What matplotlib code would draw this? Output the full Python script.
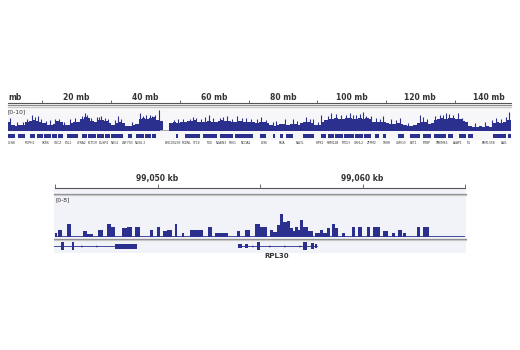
import numpy as np
import matplotlib.pyplot as plt
from matplotlib.lines import Line2D
from matplotlib.patches import Rectangle

W, H = 520, 350
BLUE = "#2b2f8e"
TXT = "#333333"

# ---- chr8 overview (1 mb bins, signal range 0-10) ----
chr_len = 146.4
overview = [
    4.2, 3.2, 2.6, 2.8, 3.0, 4.4, 5.0, 5.2, 4.8, 4.6,
    3.8, 3.0, 2.8, 3.6, 4.8, 4.4, 3.2, 2.8, 4.0, 4.2,
    4.6, 5.8, 6.8, 6.2, 4.8, 4.6, 5.2, 5.4, 5.0, 4.0,
    2.8, 3.8, 4.4, 4.0, 2.6, 2.4, 2.8, 3.6, 5.8, 6.4,
    6.0, 6.2, 6.6, 5.2, 4.8, 0.0, 0.0, 4.0, 4.2, 3.8,
    4.4, 4.6, 5.0, 4.8, 5.2, 4.4, 4.2, 4.6, 4.8, 4.2,
    4.4, 5.0, 5.4, 4.8, 5.0, 4.6, 4.2, 4.8, 4.4, 4.2,
    4.6, 4.4, 4.0, 4.6, 4.2, 3.8, 2.8, 2.6, 3.0, 3.4,
    3.6, 3.2, 3.4, 3.6, 3.2, 3.8, 4.2, 4.6, 3.8, 3.2,
    3.0, 4.4, 5.4, 5.8, 6.0, 6.2, 5.8, 6.0, 6.4, 6.2,
    5.6, 6.0, 6.2, 5.8, 6.4, 5.6, 4.4, 4.2, 4.6, 4.2,
    3.8, 3.6, 3.4, 3.8, 3.6, 2.8, 2.6, 2.4, 2.8, 4.0,
    4.6, 4.2, 3.4, 3.8, 5.4, 6.0, 6.2, 5.8, 6.4, 6.2,
    5.6, 5.8, 4.8, 4.6, 2.4, 2.2, 2.0, 2.4, 2.2, 2.6,
    2.2, 3.8, 4.2, 4.0, 4.6, 5.2, 5.4,
]
gap_start, gap_end = 44.2, 46.8

spike_mb = [0.6, 2.5, 4.3, 5.6, 6.9, 7.9, 8.8, 9.6, 11.2, 12.2,
            13.7, 14.8, 16.4, 18.0, 19.5, 20.9, 21.6, 22.4, 23.1, 24.2,
            25.8, 26.5, 27.2, 28.2, 29.0, 31.0, 32.1, 33.0, 36.2, 38.4,
            39.2, 40.3, 41.2, 41.8, 42.8, 44.0, 48.2, 49.5, 50.8, 52.9,
            53.8, 54.8, 56.2, 57.3, 58.5, 59.8, 61.6, 62.5, 63.6, 65.2,
            66.7, 68.1, 69.4, 70.6, 72.4, 73.7, 75.2, 77.0, 78.1, 80.5,
            82.9, 84.0, 86.8, 87.8, 88.8, 90.2, 91.2, 93.0, 94.1, 95.6,
            97.0, 98.3, 99.4, 100.4, 101.4, 102.5, 103.3, 104.3, 105.6, 107.2,
            108.2, 109.1, 111.5, 112.8, 114.0, 116.5, 119.8, 120.7, 122.0, 124.4,
            125.6, 126.6, 127.5, 128.4, 129.5, 130.9, 132.2, 136.0, 138.8, 141.0,
            142.1, 143.6, 144.8, 145.9]
spike_val = [6.3, 4.4, 4.2, 5.8, 7.5, 6.8, 7.1, 6.0, 4.8, 5.5,
             5.8, 5.9, 4.6, 5.6, 6.4, 5.8, 7.2, 8.7, 7.5, 6.2,
             6.8, 6.6, 7.2, 6.5, 6.0, 5.2, 7.1, 5.6, 4.2, 8.7,
             7.4, 7.9, 7.6, 7.0, 7.5, 10.0, 5.4, 5.6, 5.8, 6.0,
             6.6, 6.4, 5.8, 6.8, 7.5, 6.2, 6.3, 6.8, 7.1, 6.0,
             7.1, 6.4, 6.3, 6.0, 5.6, 6.8, 5.2, 4.4, 4.8, 5.6,
             5.9, 5.0, 6.8, 5.8, 5.6, 4.6, 7.9, 7.4, 8.7, 8.0,
             7.9, 7.6, 8.4, 7.8, 7.5, 8.2, 9.0, 7.1, 7.0, 6.3,
             5.8, 7.1, 5.9, 5.4, 6.3, 4.0, 7.9, 6.8, 5.8, 7.0,
             7.5, 7.8, 8.4, 8.0, 7.9, 8.7, 6.4, 3.8, 4.2, 5.4,
             6.3, 6.0, 6.8, 9.0]

mb_labels = [0, 20, 40, 60, 80, 100, 120, 140]
mb_ticks = [10, 30, 50, 70, 90, 110, 130]

gene_blocks = [
    (0.1, 2.0), (3.0, 4.9), (6.4, 8.0), (8.3, 10.2), (10.5, 12.6), (12.9, 14.2),
    (14.6, 16.1), (17.1, 20.4), (21.4, 23.0), (23.3, 25.6), (25.9, 27.8),
    (28.1, 29.7), (30.1, 33.5), (35.0, 36.0), (37.4, 39.5), (39.8, 41.6),
    (41.9, 43.2), (49.0, 49.5), (51.5, 55.8), (56.7, 60.7), (61.6, 65.5),
    (66.0, 71.3), (73.3, 75.2), (77.1, 77.6), (79.1, 80.0), (81.0, 82.9),
    (85.8, 89.2), (91.2, 92.6), (93.1, 95.0), (95.3, 97.6), (97.9, 100.6),
    (100.9, 103.2), (103.5, 105.7), (106.7, 108.1), (109.1, 110.1),
    (113.5, 115.4), (116.9, 119.8), (120.7, 123.2), (124.1, 127.5),
    (128.0, 129.5), (131.4, 133.3), (133.8, 135.3), (141.1, 145.0), (145.4, 146.4),
]
gene_names = ["CLN8", "MCPH1", "XKR6", "SGCZ", "FGL1", "GFRA2", "KCTD9", "DUSP4",
              "NRG1", "ZNF703", "NKX6-3", "LINC00293", "PXDNL", "ST18", "TOX",
              "NKAIN3", "RRS1", "NCOA2", "LY96", "PKIA", "RALYL", "RIPK2",
              "RBM12B", "MTDH", "GRHL2", "ZFPM2", "TRHR", "CSMD3", "EXT1",
              "MTBP", "TMEM65", "ASAP1", "TG", "FAM135B", "BAI1"]
gene_name_mb = [1.2, 6.4, 11.0, 14.5, 17.7, 21.4, 24.7, 27.9, 31.1, 34.9,
                38.6, 48.0, 51.9, 55.0, 58.4, 62.0, 65.4, 69.2, 74.7, 79.7,
                85.0, 90.7, 94.5, 98.3, 102.0, 105.8, 110.0, 114.5, 118.0,
                122.0, 126.0, 131.0, 134.0, 140.0, 144.5]

# ---- RPL30 locus (kb, signal range 0-8) ----
kb_lo, kb_hi = 99045, 99065
kb_ticks = [99045, 99050, 99055, 99060, 99065]
kb_labels = {99050: "99,050 kb", 99060: "99,060 kb"}

peak_start = [0.00, 0.15, 0.59, 1.37, 1.56, 2.10, 2.54, 2.73, 3.27, 3.51,
              3.90, 4.63, 4.98, 5.27, 5.46, 5.85, 6.20, 6.59, 7.46, 7.80,
              8.88, 9.27, 9.76, 10.00, 10.49, 10.63, 10.83, 10.98, 11.12, 11.32,
              11.46, 11.61, 11.71, 11.85, 11.95, 12.10, 12.34, 12.68, 12.93, 13.07,
              13.27, 13.51, 13.66, 14.00, 14.49, 14.78, 15.22, 15.51, 16.00, 16.44,
              16.73, 16.98, 17.66, 17.95]
peak_end = [0.10, 0.34, 0.78, 1.56, 1.85, 2.34, 2.73, 2.93, 3.51, 3.76,
            4.15, 4.78, 5.12, 5.46, 5.71, 5.95, 6.29, 7.22, 7.66, 8.44,
            9.02, 9.51, 10.00, 10.34, 10.63, 10.83, 10.98, 11.12, 11.32, 11.46,
            11.61, 11.71, 11.85, 11.95, 12.10, 12.34, 12.59, 12.93, 13.07, 13.27,
            13.41, 13.66, 13.80, 14.15, 14.63, 14.98, 15.37, 15.85, 16.24, 16.59,
            16.93, 17.12, 17.80, 18.24]
peak_val = [0.6, 1.3, 2.4, 1.1, 0.5, 1.3, 2.4, 1.9, 1.7, 1.9,
            1.9, 1.3, 1.9, 1.0, 1.3, 2.4, 0.6, 1.3, 1.9, 0.6,
            1.0, 1.3, 2.4, 1.9, 1.3, 0.8, 2.3, 4.4, 2.9, 3.1,
            1.6, 1.0, 1.9, 1.2, 3.3, 1.9, 1.0, 0.6, 1.3, 0.6,
            1.6, 2.4, 1.7, 0.6, 1.9, 1.9, 1.9, 1.9, 1.0, 0.6,
            1.3, 0.6, 1.9, 1.9]

# transcripts: intron span, exons (start, end, half-height), strand arrows
tx_spans = [(-0.05, 2.93), (8.93, 12.78)]
tx_exons = [(0.28, 0.44, 4), (0.81, 0.94, 4), (2.93, 3.99, 2.5),
            (8.93, 9.12, 2), (9.27, 9.41, 2), (9.85, 10.02, 4),
            (12.10, 12.29, 4), (12.49, 12.63, 3), (12.68, 12.78, 2)]
tx_arrows = [1.30, 2.07, 9.66, 10.49, 11.22, 11.95]


fig = plt.figure(figsize=(W / 100, H / 100), dpi=100)


def panel(x0, y0, x1, y1):
    ax = fig.add_axes([x0 / W, 1 - y1 / H, (x1 - x0) / W, (y1 - y0) / H])
    ax.set_axis_off()
    return ax


def hline(x0, x1, y, color, lw=0.75):
    fig.add_artist(Line2D([x0 / W, x1 / W], [1 - y / H, 1 - y / H],
                          transform=fig.transFigure, color=color, lw=lw))


def shade(x0, y0, x1, y1, color):
    fig.add_artist(Rectangle((x0 / W, 1 - y1 / H), (x1 - x0) / W, (y1 - y0) / H,
                             transform=fig.transFigure, color=color, lw=0, zorder=0))


# ================= top: whole chromosome =================
shade(8, 107, 511, 140, "#f7f7fa")

ax = panel(8, 88, 511, 104)
ax.set_xlim(0, chr_len)
ax.set_ylim(0, 16)
ax.plot([0, chr_len], [0.6, 0.6], color="#555555", lw=0.8, clip_on=False)
ax.vlines(mb_ticks, 0.6, 3.6, color="#555555", lw=0.6)
for m in mb_labels:
    lab = "mb" if m == 0 else f"{m} mb"
    ax.text(m, 7, lab, ha="left" if m == 0 else "center", va="center",
            fontsize=5.5, fontweight="bold", color=TXT)

hline(8, 511, 105.3, "#8a8a8a", 0.9)
hline(8, 511, 106.8, "#c8c8c8", 0.9)

fig.text(8 / W, 1 - 112 / H, "[0-10]", fontsize=4.3, color=TXT, va="center", ha="left")

ax = panel(8, 110, 511, 131.5)
ax.set_xlim(0, chr_len)
ax.set_ylim(0, 10)
edges = np.arange(len(overview) + 1, dtype=float)
edges[-1] = chr_len
ax.stairs(overview, edges, fill=True, color=BLUE, lw=0)
ax.vlines(spike_mb, 0, spike_val, color=BLUE, lw=0.8)
ax.add_patch(Rectangle((gap_start, 0), gap_end - gap_start, 0.7,
                       color="#a8a8b0", lw=0))

ax = panel(8, 133.5, 511, 139)
ax.set_xlim(0, chr_len)
ax.set_ylim(0, 1)
ax.broken_barh([(s, e - s) for s, e in gene_blocks], (0.1, 0.8), color=BLUE, lw=0)

ax = panel(8, 139, 511, 146)
ax.set_xlim(0, chr_len)
ax.set_ylim(0, 1)
for name, m in zip(gene_names, gene_name_mb):
    ax.text(m, 0.5, name, fontsize=2.2, color=TXT, ha="center", va="center")

# ================= bottom: RPL30 locus =================
shade(54, 189, 466, 253, "#f2f3f8")

ax = panel(55, 170, 465, 189)
ax.set_xlim(kb_lo, kb_hi)
ax.set_ylim(0, 19)
ax.plot([kb_lo, kb_hi], [1, 1], color="#555555", lw=0.8, clip_on=False)
ax.vlines(kb_ticks, 1, 5, color="#555555", lw=0.6, clip_on=False)
for k, lab in kb_labels.items():
    ax.text(k, 11, lab, ha="center", va="center", fontsize=5.5,
            fontweight="bold", color=TXT)

hline(54, 466, 193.8, "#8a8a8a", 0.9)
hline(54, 466, 195.4, "#c8c8c8", 0.9)

fig.text(55 / W, 1 - 200 / H, "[0-8]", fontsize=4.3, color=TXT, va="center", ha="left")

ax = panel(55, 196, 465, 236.5)
ax.set_xlim(0, kb_hi - kb_lo)
ax.set_ylim(0, 8)
ax.bar(peak_start, peak_val, width=np.subtract(peak_end, peak_start),
       align="edge", color=BLUE, lw=0)
ax.plot([0, kb_hi - kb_lo], [0.05, 0.05], color=BLUE, lw=0.6)

hline(54, 466, 238.6, "#8a8a8a", 0.9)
hline(54, 466, 240.2, "#c8c8c8", 0.9)

ax = panel(55, 241, 465, 251)
ax.set_xlim(0, kb_hi - kb_lo)
ax.set_ylim(-5, 5)
for s, e in tx_spans:
    ax.plot([s, e], [0, 0], color=BLUE, lw=0.6, clip_on=False)
for s, e, h in tx_exons:
    ax.add_patch(Rectangle((s, -h), e - s, 2 * h, color=BLUE, lw=0))
ax.plot(tx_arrows, [0] * len(tx_arrows), ls="none", marker=">", ms=1.6,
        color=BLUE, mew=0)

fig.text((55 + 10.83 * 20.5) / W, 1 - 256.5 / H, "RPL30", fontsize=5,
         fontweight="bold", color=TXT, ha="center", va="center")

fig.savefig("out.png", dpi=100)
